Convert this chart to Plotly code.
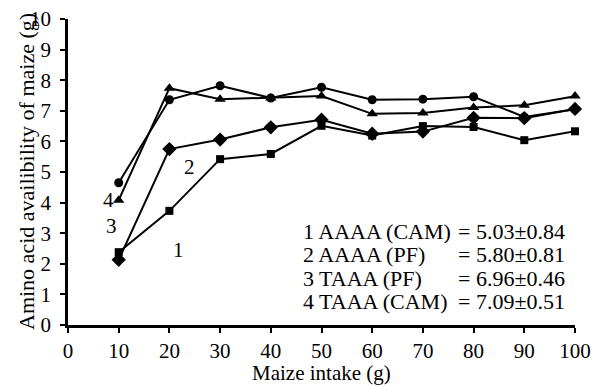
import plotly.graph_objects as go

intake = [10, 20, 30, 40, 50, 60, 70, 80, 90, 100]
aaaa_cam = [2.38, 3.73, 5.42, 5.59, 6.51, 6.19, 6.50, 6.47, 6.04, 6.33]
aaaa_pf = [2.13, 5.75, 6.06, 6.46, 6.71, 6.25, 6.32, 6.77, 6.76, 7.06]
taaa_pf = [4.08, 7.74, 7.38, 7.42, 7.48, 6.90, 6.93, 7.11, 7.18, 7.48]
taaa_cam = [4.65, 7.36, 7.82, 7.42, 7.77, 7.36, 7.38, 7.46, 6.80, 7.05]

series = [
    ("1", aaaa_cam, "square", 8),
    ("2", aaaa_pf, "diamond", 11),
    ("3", taaa_pf, "triangle-up", 10),
    ("4", taaa_cam, "circle", 9),
]

legend_names = ["1 AAAA (CAM)", "2 AAAA (PF)", "3 TAAA (PF)", "4 TAAA (CAM)"]
legend_values = ["= 5.03±0.84", "= 5.80±0.81", "= 6.96±0.46", "= 7.09±0.51"]

curve_labels = ["1", "2", "3", "4"]
curve_label_x = [21.8, 23.9, 8.5, 8.0]
curve_label_y = [2.45, 5.15, 3.24, 4.1]

x_ticks = list(range(0, 101, 10))
y_ticks = list(range(0, 11, 1))

FONT = "Liberation Serif"

fig = go.Figure()
for name, vals, sym, sz in series:
    fig.add_trace(go.Scatter(
        x=intake, y=vals, mode="lines+markers", name=name,
        line=dict(color="black", width=2),
        marker=dict(symbol=sym, size=sz, color="black"),
        cliponaxis=False, showlegend=False,
    ))

for t, xv, yv in zip(curve_labels, curve_label_x, curve_label_y):
    fig.add_annotation(x=xv, y=yv, text=t, showarrow=False,
                       font=dict(family=FONT, size=21, color="black"),
                       xanchor="center", yanchor="middle")

legend_y = [3.07, 2.31, 1.52, 0.77]
for nm, val, yv in zip(legend_names, legend_values, legend_y):
    fig.add_annotation(x=46.1, y=yv, text=nm, showarrow=False, borderpad=0,
                       font=dict(family=FONT, size=22, color="black"),
                       xanchor="left", yanchor="middle")
    fig.add_annotation(x=76.8, y=yv, text=val, showarrow=False, borderpad=0,
                       font=dict(family=FONT, size=22, color="black"),
                       xanchor="left", yanchor="middle")

fig.add_annotation(xref="paper", yref="paper", x=0, y=0.5, xshift=-42,
                   text="Amino acid availibility of maize (g)", textangle=-90,
                   showarrow=False, xanchor="center", yanchor="middle",
                   font=dict(family=FONT, size=22, color="black"))
fig.add_annotation(xref="paper", yref="paper", x=0.5, y=0, yshift=-48,
                   text="Maize intake (g)", borderpad=0,
                   showarrow=False, xanchor="center", yanchor="middle",
                   font=dict(family=FONT, size=21, color="black"))

fig.update_layout(
    width=592, height=387,
    margin=dict(l=68, r=17, t=19, b=62),
    paper_bgcolor="white", plot_bgcolor="white",
    font=dict(family=FONT, color="black"),
    xaxis=dict(
        range=[0, 100], tickvals=x_ticks, showgrid=False, zeroline=False,
        showline=True, linecolor="black", linewidth=2.5, automargin=False,
        ticks="outside", ticklen=5, tickwidth=2, tickcolor="black",
        tickfont=dict(family=FONT, size=21, color="black"),
        ticklabelstandoff=0,
    ),
    yaxis=dict(
        range=[0, 10], tickvals=y_ticks, showgrid=False, zeroline=False,
        showline=True, linecolor="black", linewidth=2.5, automargin=False,
        ticks="outside", ticklen=5, tickwidth=2, tickcolor="black",
        tickfont=dict(family=FONT, size=21, color="black"),
        ticklabelstandoff=5,
    ),
)

fig.write_html("out.html", config={"displayModeBar": False},
               post_script="document.body.style.margin='0';document.body.style.overflow='hidden';")
